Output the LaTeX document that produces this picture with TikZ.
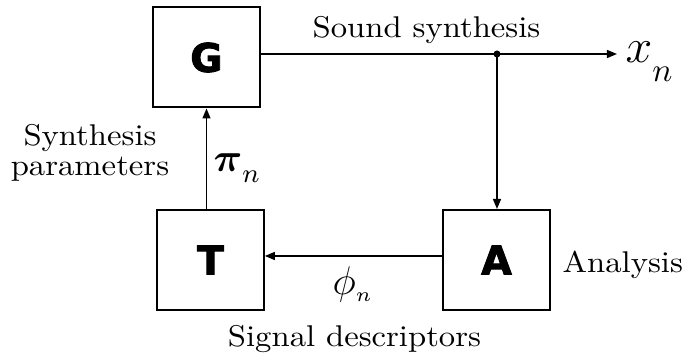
\documentclass[tikz,border=0pt]{standalone}
\usepackage{fontspec}
\usepackage{bm}
\usetikzlibrary{arrows.meta}
\setmainfont{lmroman10-regular.otf}[FakeStretch=1.09]
\newfontfamily\boxfont{DejaVu Sans}[FakeBold=2.5]
\begin{document}
\begin{tikzpicture}[x=0.3pt,y=-0.3pt,
  blk/.style={draw, line width=0.6pt, minimum width=32pt, minimum height=30pt,
    inner sep=0pt, font=\boxfont\bfseries\fontsize{11.8}{12}\selectfont},
  con/.style={line width=0.4pt},
  arr/.style={con, -{Triangle[length=3pt,width=2.4pt]}},
  lbl/.style={inner sep=0pt, font=\fontsize{9}{9}\selectfont},
  sym/.style={inner sep=0pt, anchor=base west}]
\useasboundingbox (0,0) rectangle (684,356);
\node[blk] (G) at (206.5,57.5) {G};
\node[blk] (T) at (210.5,260) {T};
\node[blk] (A) at (496.5,260) {A};
\coordinate (J) at (497,54);
\coordinate (out) at (617,54);
\draw[con] (G.east |- J) -- (J);
\draw[arr] (J) -- (out);
\fill (J) circle[radius=1.05pt];
\draw[arr] (J) -- (J |- A.north);
\draw[arr] ([yshift=1.2pt]A.west) -- ([yshift=1.2pt]T.east);
\draw[arr] (G.south |- T.north) -- (G.south);
\node[lbl, anchor=base] (ss) at (426.5,38) {Sound synthesis};
\node[lbl, anchor=base, align=center] (sp) at (90,176) {Synthesis\\parameters};
\node[lbl, anchor=base west] (an) at (562,273) {Analysis};
\node[lbl, anchor=base] (sd) at (354.5,347) {Signal descriptors};
\node[sym] (xn) at (625,63) {\fontsize{14.5}{16}\selectfont$x\raisebox{-5.7pt}{$\scriptstyle n$}$};
\node[sym] (pn) at (213,172) {\fontsize{11.5}{13}\selectfont$\bm{\pi}\raisebox{-3.3pt}{$\scriptstyle n$}$};
\node[sym] (fn) at (332,295) {\fontsize{11.5}{13}\selectfont$\phi\raisebox{-2pt}{\fontsize{6.5}{7}\selectfont$n$}$};
\end{tikzpicture}
\end{document}
